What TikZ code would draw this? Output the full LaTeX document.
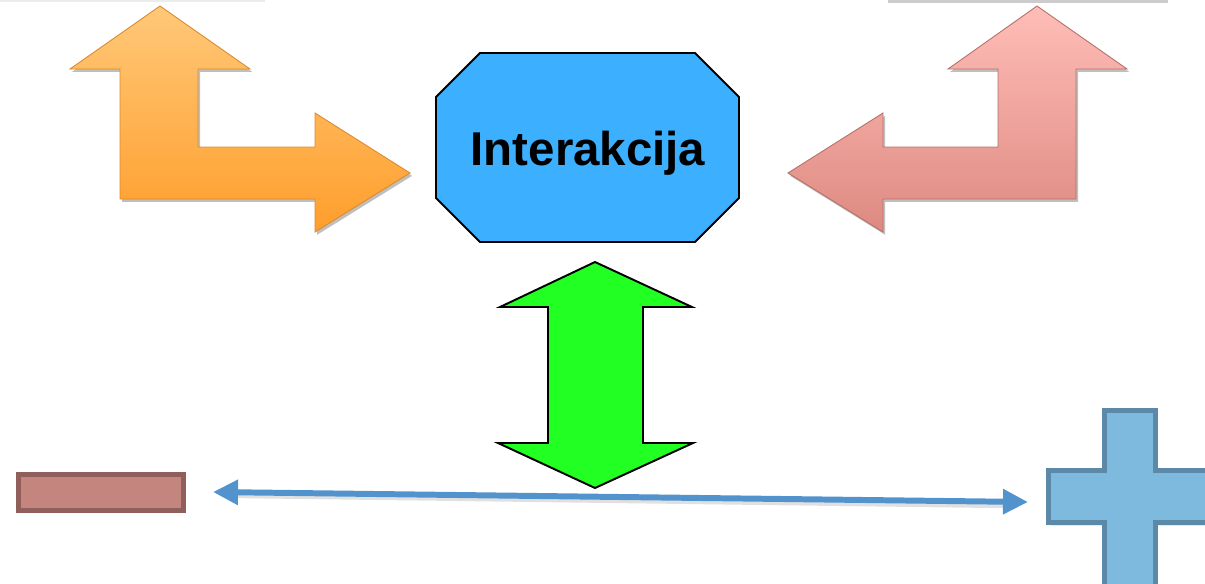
\documentclass[tikz,border=0pt]{standalone}
\usepackage{fontspec}
\newfontfamily\arialFont{Liberation Sans}
\usetikzlibrary{arrows.meta, shadows}
\tikzstyle{canvas} = [x = .02cm, y = -.02cm]
\definecolor{orangeTop}{HTML}{FFC878}
\definecolor{orangeBottom}{HTML}{FF9E2C}
\definecolor{orangeEdge}{HTML}{D98B2E}
\definecolor{pinkTop}{HTML}{FFBDB7}
\definecolor{pinkBottom}{HTML}{DD8A81}
\definecolor{pinkEdge}{HTML}{B5706A}
\definecolor{octagonFill}{HTML}{3CB0FF}
\definecolor{greenFill}{HTML}{22FF22}
\definecolor{lineBlue}{HTML}{5393CD}
\definecolor{minusFill}{HTML}{C4857F}
\definecolor{minusEdge}{HTML}{915F5B}
\definecolor{plusFill}{HTML}{7EB9DE}
\definecolor{plusEdge}{HTML}{5C89A8}
\tikzstyle{softShadow} = [drop shadow = {shadow xshift = 1.2pt, shadow yshift = -1.6pt, opacity = .25, fill = black}]
\tikzstyle{orangeArrow} = [top color = orangeTop, bottom color = orangeBottom, draw = orangeEdge, line width = .5pt, softShadow]
\tikzstyle{pinkArrow} = [top color = pinkTop, bottom color = pinkBottom, draw = pinkEdge, line width = .5pt, softShadow]
\tikzstyle{octagonStyle} = [fill = octagonFill, draw = black, line width = 1.1pt]
\tikzstyle{greenArrow} = [fill = greenFill, draw = black, line width = 1.1pt]
\tikzstyle{interText} = [font = \arialFont\bfseries\fontsize{27}{30}\selectfont, anchor = base]
\tikzstyle{connector} = [draw = lineBlue, line width = 3.4pt, {Triangle[length = .5cm, width = .48cm]}-{Triangle[length = .5cm, width = .48cm]}]
\tikzstyle{connectorShadow} = [draw = black, opacity = .12, line width = 3pt, transform canvas = {yshift = -2pt}]
\tikzstyle{minusStyle} = [fill = minusFill, draw = minusEdge, line width = 2.8pt, minimum width = 3.3cm, minimum height = .72cm, inner sep = 0pt, softShadow]
\tikzstyle{plusStyle} = [fill = plusFill, draw = plusEdge, line width = 2.8pt, softShadow]
\tikzstyle{edgeShadow} = [fill = black, opacity = .08]
\begin{document}
\begin{tikzpicture}[canvas]
  \useasboundingbox (0,0) rectangle (1205,583);
  \clip (0,0) rectangle (1205,583);
  % cut-off boxes at the top edge
  \fill [edgeShadow] (0,0) rectangle (265,2);
  \fill [edgeShadow, opacity = .2] (888,0) rectangle (1168,2.5);
  % bent arrows
  \path [orangeArrow] (160,6) -- (250,69) -- (198,69) -- (198,147) -- (315,147) -- (315,113)
    -- (410,173) -- (315,232) -- (315,199) -- (120,199) -- (120,69) -- (70,69) -- cycle;
  \path [pinkArrow] (1037,6) -- (1127,69) -- (1076,69) -- (1076,199) -- (883,199) -- (883,232)
    -- (788,173) -- (883,113) -- (883,147) -- (998,147) -- (998,69) -- (948,69) -- cycle;
  % centre
  \draw [octagonStyle] (480,53) -- (695,53) -- (739,97) -- (739,198) -- (695,242) -- (480,242)
    -- (436,198) -- (436,97) -- cycle;
  \node [interText] (interakcija) at (588,165) {Interakcija};
  \draw [greenArrow] (595,262) -- (692,307) -- (643,307) -- (643,443) -- (693,443) -- (595,488)
    -- (498,443) -- (548,443) -- (548,307) -- (500,307) -- cycle;
  % minus and plus
  \node [minusStyle] (minusSign) at (101,492.5) {};
  \draw [plusStyle] (1104.5,410.5) -- (1155.5,410.5) -- (1155.5,470.5) -- (1230,470.5) -- (1230,522.5)
    -- (1155.5,522.5) -- (1155.5,600) -- (1104.5,600) -- (1104.5,522.5) -- (1048.5,522.5)
    -- (1048.5,470.5) -- (1104.5,470.5) -- cycle;
  \coordinate (lineStart) at (213,492);
  \coordinate (lineEnd) at (1028,502);
  \draw [connectorShadow] ([xshift = .5cm] lineStart) -- ([xshift = -.5cm] lineEnd);
  \draw [connector] (lineStart) -- (lineEnd);
\end{tikzpicture}
\end{document}
